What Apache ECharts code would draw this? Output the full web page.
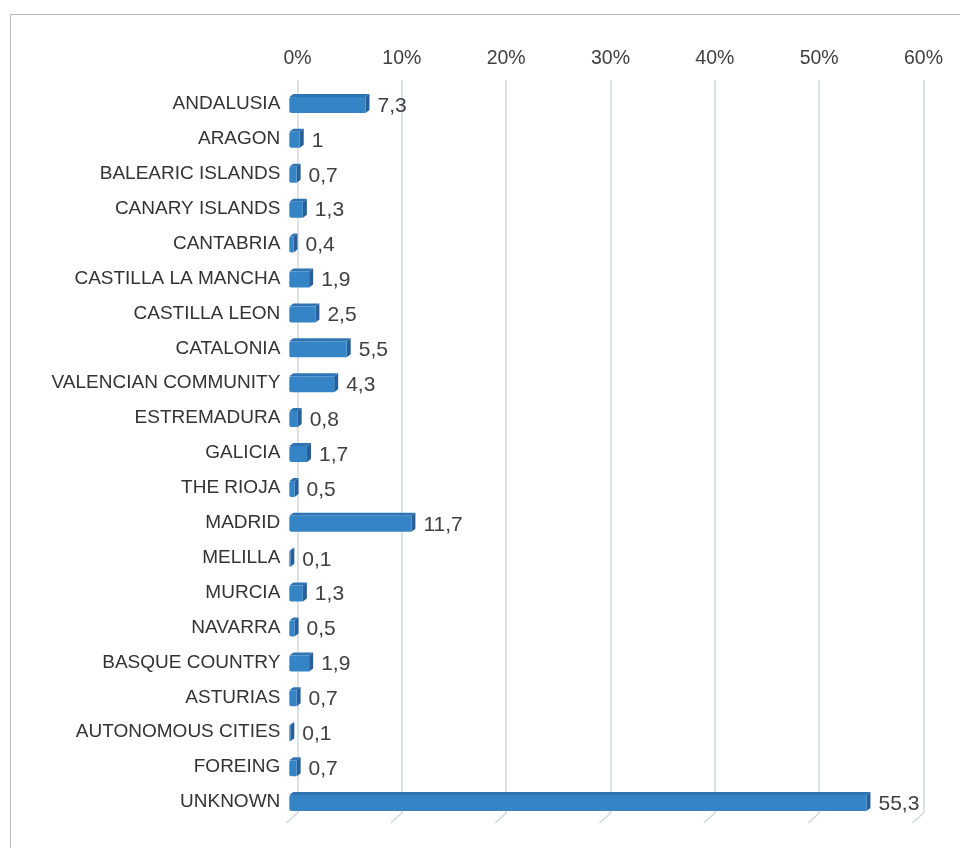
<!DOCTYPE html>
<html lang="en">
<head>
    <meta charset="UTF-8">
    <title>Regions</title>
    <script src="https://cdn.jsdelivr.net/npm/echarts@6/dist/echarts.min.js"></script>
    <style>
        html, body { margin: 0; padding: 0; background: #fff; }
        #chart { width: 960px; height: 848px; }
    </style>
</head>
<body>
<div id="chart"></div>
<script>
    // data
    var regions = ['ANDALUSIA', 'ARAGON', 'BALEARIC ISLANDS', 'CANARY ISLANDS', 'CANTABRIA',
        'CASTILLA LA MANCHA', 'CASTILLA LEON', 'CATALONIA', 'VALENCIAN COMMUNITY', 'ESTREMADURA',
        'GALICIA', 'THE RIOJA', 'MADRID', 'MELILLA', 'MURCIA', 'NAVARRA', 'BASQUE COUNTRY',
        'ASTURIAS', 'AUTONOMOUS CITIES', 'FOREING', 'UNKNOWN'];
    var percents = [7.3, 1, 0.7, 1.3, 0.4, 1.9, 2.5, 5.5, 4.3, 0.8, 1.7, 0.5, 11.7, 0.1, 1.3, 0.5, 1.9, 0.7, 0.1, 0.7, 55.3];
    var xTicks = [0, 10, 20, 30, 40, 50, 60];

    var chart = echarts.init(document.getElementById('chart'));
    var FONT = 'Liberation Sans';

    // 3d-ish bar: front face + thin top + right side
    function renderBar(params, api) {
        var cat = api.value(0);
        var val = api.value(1);
        var p0 = api.coord([0, cat]);
        var p1 = api.coord([val, cat]);
        var h = 16, dx = 4, dy = -3;
        var x0 = p0[0], x1 = p1[0];
        var yt = p0[1] - h / 2 + 1, yb = yt + h;
        var txt = String(val).replace('.', ',');
        return {
            type: 'group',
            children: [
                { type: 'polygon', shape: { points: [[x0, yt], [x1, yt], [x1 + dx, yt + dy], [x0 + dx, yt + dy]] },
                    style: { fill: '#2f74b2' } },
                { type: 'polygon', shape: { points: [[x1, yt], [x1 + dx, yt + dy], [x1 + dx, yb + dy], [x1, yb]] },
                    style: { fill: '#26609a' } },
                { type: 'rect', shape: { x: x0, y: yt, width: x1 - x0, height: h, r: [2, 0, 0, 2] },
                    style: { fill: '#3584c6' } },
                { type: 'text', x: x1 + dx + 8, y: p0[1] + 2,
                    style: { text: txt, fill: '#404040', font: '21px ' + FONT, verticalAlign: 'middle' } }
            ]
        };
    }

    // floor lines under the gridlines
    function renderFloor(params, api) {
        var x = api.coord([api.value(0), 0])[0];
        var bottom = params.coordSys.y + params.coordSys.height;
        return {
            type: 'line',
            shape: { x1: x, y1: bottom, x2: x - 11, y2: bottom + 10 },
            style: { stroke: '#d3d7de', lineWidth: 1.5 }
        };
    }

    var barData = percents.map(function (v, i) { return [i, v]; });
    var floorData = xTicks.map(function (t) { return [t, 0]; });

    chart.setOption({
        backgroundColor: '#ffffff',
        animation: false,
        graphic: [{
            type: 'rect',
            shape: { x: 10.5, y: 14.5, width: 1000, height: 1000 },
            style: { fill: 'none', stroke: '#b8b8b8', lineWidth: 1 },
            z: -10
        }],
        grid: [
            { left: 297.5, right: 36.5, top: 80, bottom: 35 },
            { left: 289.3, right: 44.5, top: 86.5, bottom: 28.5 }
        ],
        xAxis: [
            {
                gridIndex: 0, type: 'value', position: 'top', min: 0, max: 60, interval: 10,
                axisLine: { show: false }, axisTick: { show: false },
                axisLabel: { formatter: '{value}%', fontFamily: FONT, fontSize: 19.5, color: '#404040', margin: 11 },
                splitLine: { lineStyle: { color: '#d3d7de', width: 1.5 } }
            },
            { gridIndex: 1, type: 'value', min: 0, max: 60, show: false }
        ],
        yAxis: [
            { gridIndex: 0, type: 'value', min: 0, max: 1, show: false },
            {
                gridIndex: 1, type: 'category', inverse: true, data: regions,
                axisLine: { show: false }, axisTick: { show: false },
                axisLabel: { fontFamily: FONT, fontSize: 19, color: '#333333', margin: 9, padding: [4, 0, 0, 0] }
            }
        ],
        series: [
            {
                type: 'custom', xAxisIndex: 0, yAxisIndex: 0, renderItem: renderFloor,
                data: floorData, silent: true
            },
            {
                type: 'custom', xAxisIndex: 1, yAxisIndex: 1, renderItem: renderBar,
                encode: { x: 1, y: 0 }, data: barData
            }
        ]
    });
</script>
</body>
</html>
